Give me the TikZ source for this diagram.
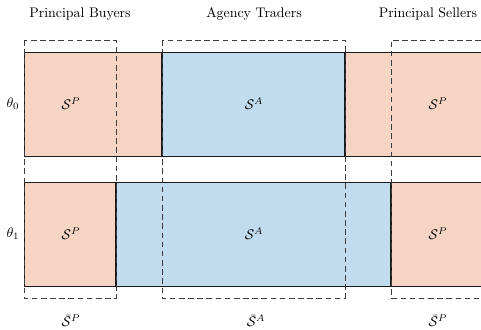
\documentclass[tikz,border=0pt]{standalone}
\usepackage{amsmath,amssymb}
\usetikzlibrary{positioning}
\definecolor{ink}{HTML}{1A1A1A}
\definecolor{salmon}{HTML}{F5D4C4}
\definecolor{sky}{HTML}{C1DCEE}

\begin{document}
\begin{tikzpicture}[x=.72pt,y=-.72pt,
  prin/.style={fill=salmon,draw=none},
  agen/.style={fill=sky,draw=none},
  edge/.style={draw=ink,line width=.6pt},
  cut/.style={draw=ink,line width=.9pt},
  group/.style={draw=ink!85,line width=.6pt,dash pattern=on 4pt off 2.6pt},
  lab/.style={font=\normalsize}]

\useasboundingbox (0,0) rectangle (481,329);

% state theta_0
\fill[prin] (24,52) rectangle (162,156);
\fill[agen] (162,52) rectangle (345,156);
\fill[prin] (345,52) rectangle (481,156);
\draw[edge] (481,52)--(24,52)--(24,156)--(481,156);
\draw[cut] (162,52)--(162,156);
\draw[cut] (345,52)--(345,156);

% state theta_1
\fill[prin] (24,182) rectangle (116,286);
\fill[agen] (116,182) rectangle (391,286);
\fill[prin] (391,182) rectangle (481,286);
\draw[edge] (481,182)--(24,182)--(24,286)--(481,286);
\draw[cut] (116,182)--(116,286);
\draw[cut] (391,182)--(391,286);

% trader groups
\draw[group] (24,40) rectangle (116,298);
\draw[group] (162,40) rectangle (345,298);
\draw[group] (481,40)--(391,40)--(391,298)--(481,298);

% headings
\node[lab] (buy) at (80,14) {Principal Buyers};
\node[lab] (agy) at (254,14) {Agency Traders};
\node[lab] (sel) at (428,14) {Principal Sellers};

% row labels
\node[lab] (th0) at (13,104) {$\theta_0$};
\node[lab] (th1) at (13,234) {$\theta_1$};

% cell labels
\node[lab] (p00) at (71,104) {$\mathcal{S}^P$};
\node[lab] (a0) at (254,104) {$\mathcal{S}^A$};
\node[lab] (p01) at (438,104) {$\mathcal{S}^P$};
\node[lab] (p10) at (71,234) {$\mathcal{S}^P$};
\node[lab] (a1) at (254,234) {$\mathcal{S}^A$};
\node[lab] (p11) at (438,234) {$\mathcal{S}^P$};

% group labels
\node[lab] (gb) at (71,321) {$\bar{\mathcal{S}}^P$};
\node[lab] (ga) at (256,321) {$\bar{\mathcal{S}}^A$};
\node[lab] (gs) at (438,321) {$\bar{\mathcal{S}}^P$};

\end{tikzpicture}
\end{document}
